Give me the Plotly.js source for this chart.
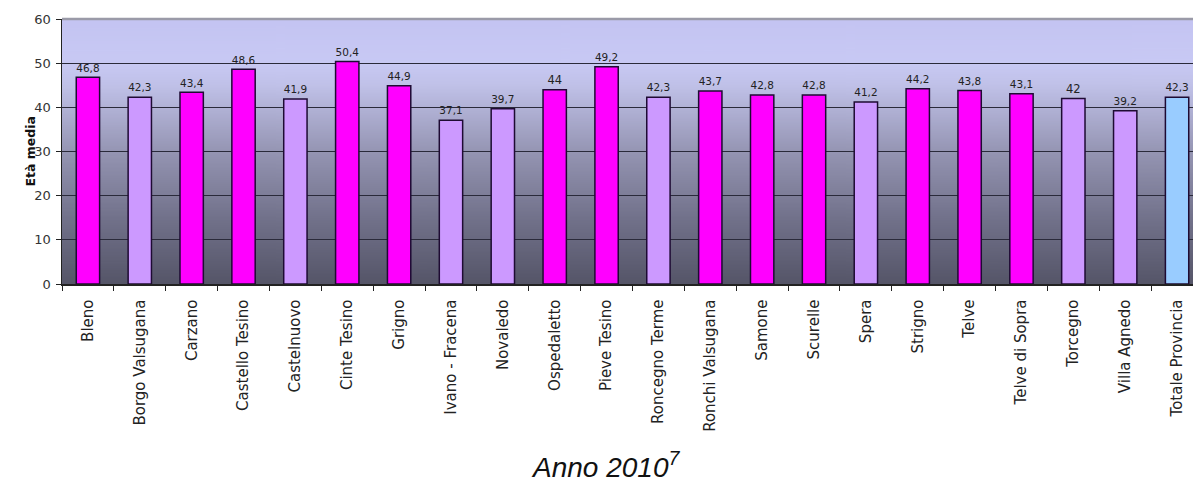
<!DOCTYPE html>
<html>
<head>
<meta charset="utf-8">
<script src="https://cdn.plot.ly/plotly-3.0.1.min.js"></script>
<style>
html,body{margin:0;padding:0;background:#fff;overflow:hidden;}
#chart{width:1210px;height:498px;}
</style>
</head>
<body>
<div id="chart"></div>
<script>
const categories = ["Bleno","Borgo Valsugana","Carzano","Castello Tesino","Castelnuovo","Cinte Tesino","Grigno","Ivano - Fracena","Novaledo","Ospedaletto","Pieve Tesino","Roncegno Terme","Ronchi Valsugana","Samone","Scurelle","Spera","Strigno","Telve","Telve di Sopra","Torcegno","Villa Agnedo","Totale Provincia"];
const values = [46.8,42.3,43.4,48.6,41.9,50.4,44.9,37.1,39.7,44,49.2,42.3,43.7,42.8,42.8,41.2,44.2,43.8,43.1,42,39.2,42.3];
const groups = ["alto","basso","alto","alto","basso","alto","alto","basso","basso","alto","alto","basso","alto","alto","alto","basso","alto","alto","alto","basso","basso","totale"];
const yTicks = [0,10,20,30,40,50,60];

const groupColors = {alto:"#ff00ff", basso:"#cc99ff", totale:"#99ccff"};
const barColors = groups.map(g => groupColors[g]);
const labels = values.map(v => String(v).replace(".", ","));

// gradient background for plot area
const cv = document.createElement("canvas");
cv.width = 8; cv.height = 400;
const ctx = cv.getContext("2d");
const grd = ctx.createLinearGradient(0,0,0,400);
grd.addColorStop(0.00, "#c4c4f2");
grd.addColorStop(0.167, "#c8c9f4");
grd.addColorStop(0.25, "#c0c1e8");
grd.addColorStop(0.50, "#9595b3");
grd.addColorStop(0.75, "#72728b");
grd.addColorStop(1.00, "#555568");
ctx.fillStyle = grd;
ctx.fillRect(0,0,8,400);
const bgURL = cv.toDataURL("image/png");

const trace = {
  type: "bar",
  x: categories,
  y: values,
  text: labels,
  textposition: "outside",
  cliponaxis: false,
  textfont: {family: "DejaVu Sans, Verdana, sans-serif", size: 11.5, color: "#222"},
  marker: {color: barColors, line: {color: "#1e0b33", width: 1.5}},
  hoverinfo: "x+y"
};

const layout = {
  width: 1210,
  height: 498,
  margin: {l: 62, r: 7, t: 19, b: 214, pad: 0},
  paper_bgcolor: "#ffffff",
  plot_bgcolor: "rgba(0,0,0,0)",
  bargap: 0.55,
  showlegend: false,
  font: {family: "Liberation Sans, Arial, sans-serif", color: "#222"},
  xaxis: {
    type: "category",
    tickangle: -90,
    tickfont: {family: "DejaVu Sans, Verdana, sans-serif", size: 15, color: "#222"},
    ticks: "outside",
    tickson: "boundaries",
    ticklen: 5,
    tickcolor: "#222",
    ticklabelstandoff: 8,
    showline: true,
    linecolor: "#222",
    linewidth: 1.5,
    showgrid: false,
    automargin: false,
    fixedrange: true
  },
  yaxis: {
    range: [0, 60],
    tickvals: yTicks,
    ticktext: yTicks.map(String),
    tickfont: {family: "DejaVu Sans, Verdana, sans-serif", size: 13, color: "#333"},
    ticks: "outside",
    ticklen: 5,
    tickcolor: "#222",
    ticklabelstandoff: 2,
    showline: true,
    linecolor: "#222",
    linewidth: 1.5,
    showgrid: true,
    gridcolor: "#2a2a3a",
    gridwidth: 1,
    zeroline: false,
    automargin: false,
    fixedrange: true
  },
  images: [{
    source: bgURL, xref: "paper", yref: "paper",
    x: 0, y: 1, sizex: 1, sizey: 1,
    xanchor: "left", yanchor: "top",
    sizing: "stretch", layer: "below"
  }],
  shapes: [{
    type: "line", xref: "paper", yref: "paper",
    x0: 0, x1: 1, y0: 1, y1: 1,
    line: {color: "#9a9aa8", width: 2.5}
  }],
  annotations: [
    {
      text: "<b>Età media</b>", textangle: -90,
      xref: "paper", yref: "paper", x: -0.028, y: 0.5,
      xanchor: "center", yanchor: "middle", showarrow: false,
      font: {family: "DejaVu Sans, Verdana, sans-serif", size: 12.5, color: "#111"}
    },
    {
      text: "<i>Anno 2010<sup>7</sup></i>",
      xref: "paper", yref: "paper", x: 0.476, y: -0.683,
      xanchor: "center", yanchor: "middle", showarrow: false,
      font: {family: "Liberation Sans, Arial, sans-serif", size: 28, color: "#111"}
    }
  ]
};

Plotly.newPlot("chart", [trace], layout, {displayModeBar: false, staticPlot: true});
</script>
</body>
</html>
